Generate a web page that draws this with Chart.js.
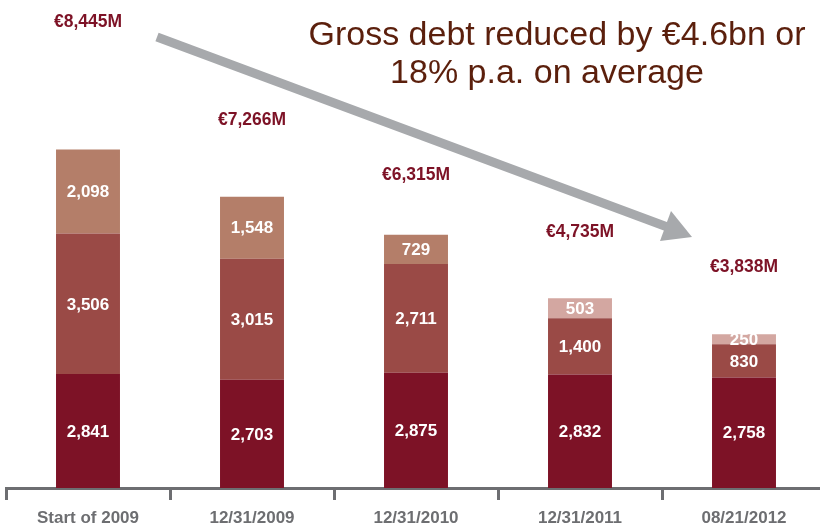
<!DOCTYPE html>
<html>
<head>
<meta charset="utf-8">
<script src="https://cdn.jsdelivr.net/npm/chart.js@4.4.0/dist/chart.umd.min.js"></script>
<style>
  html, body { margin: 0; padding: 0; background: #fff; overflow: hidden; }
  #wrap { width: 830px; height: 526px; }
</style>
</head>
<body>
<div id="wrap"><canvas id="debtChart" width="830" height="526"></canvas></div>
<script>
var categories = ['Start of 2009', '12/31/2009', '12/31/2010', '12/31/2011', '08/21/2012']
var bottomValues = [2841, 2703, 2875, 2832, 2758]
var middleValues = [3506, 3015, 2711, 1400, 830]
var topValues = [2098, 1548, 729, 503, 250]
var totalLabels = ['€8,445M', '€7,266M', '€6,315M', '€4,735M', '€3,838M']

var titleLines = ['Gross debt reduced by €4.6bn or', '18% p.a. on average']

// how far each total sits above its bar (px)
var totalLift = [127, 77, 60, 66, 67]

var topColors = ['#b47e69', '#b47e69', '#b47e69', '#d3a7a1', '#d3a7a1']

var fmt = function(v){
  return v.toLocaleString('en-US')
}

var segmentLabels = {
  id: 'segmentLabels',
  afterDatasetsDraw: function(chart){
    var ctx = chart.ctx
    ctx.save()
    ctx.fillStyle = '#ffffff'
    ctx.font = 'bold 17px "Liberation Sans", Arial, sans-serif'
    ctx.textAlign = 'center'
    ctx.textBaseline = 'middle'
    chart.data.datasets.forEach(function(ds, i){
      var meta = chart.getDatasetMeta(i)
      meta.data.forEach(function(bar, j){
        ctx.fillText(fmt(ds.data[j]), bar.x, (bar.y + bar.base) / 2 + 1)
      })
    })
    // totals above the stacks
    var topMeta = chart.getDatasetMeta(2)
    ctx.fillStyle = '#7d1226'
    ctx.font = 'bold 17.5px "Liberation Sans", Arial, sans-serif'
    topMeta.data.forEach(function(bar, j){
      ctx.fillText(totalLabels[j], bar.x, bar.y - totalLift[j])
    })
    ctx.restore()
  }
}

var headline = {
  id: 'headline',
  afterDraw: function(chart){
    var ctx = chart.ctx
    ctx.save()
    // trend arrow
    ctx.strokeStyle = '#a7a9ac'
    ctx.fillStyle = '#a7a9ac'
    ctx.lineWidth = 9
    ctx.beginPath()
    ctx.moveTo(157, 37)
    ctx.lineTo(670, 228)
    ctx.stroke()
    ctx.beginPath()
    ctx.moveTo(692, 237)
    ctx.lineTo(671, 211)
    ctx.lineTo(660, 241)
    ctx.closePath()
    ctx.fill()
    // headline text
    ctx.fillStyle = '#5b1f0c'
    ctx.font = '34px "Liberation Sans", Arial, sans-serif'
    ctx.textAlign = 'center'
    ctx.textBaseline = 'alphabetic'
    ctx.fillText(titleLines[0], 557, 45)
    ctx.fillText(titleLines[1], 547, 83)
    ctx.restore()
  }
}

var ctx = document.getElementById('debtChart')

var debtChart = new Chart(ctx, {
  type: 'bar',
  data: {
    labels: categories,
    datasets: [{
      data: bottomValues,
      backgroundColor: '#7d1226'
    }, {
      data: middleValues,
      backgroundColor: '#9a4a46'
    }, {
      data: topValues,
      backgroundColor: topColors
    }]
  },
  options: {
    responsive: false,
    animation: false,
    layout: {
      padding: { left: 6, right: 4, top: 7, bottom: 0 }
    },
    datasets: {
      bar: {
        categoryPercentage: 1,
        barPercentage: 0.39
      }
    },
    scales: {
      x: {
        stacked: true,
        afterFit: function(scale){ scale.height = 38 },
        grid: {
          offset: true,
          drawOnChartArea: false,
          tickLength: 12,
          color: '#6d6e71',
          lineWidth: 3
        },
        border: { display: true, color: '#6d6e71', width: 3 },
        ticks: {
          color: '#6d6e71',
          padding: 8,
          font: { family: '"Liberation Sans", Arial, sans-serif', size: 17, weight: 'bold' }
        }
      },
      y: {
        stacked: true,
        display: false,
        min: 0,
        max: 12000
      }
    },
    plugins: {
      legend: { display: false },
      tooltip: { enabled: false }
    }
  },
  plugins: [segmentLabels, headline]
});
</script>
</body>
</html>
